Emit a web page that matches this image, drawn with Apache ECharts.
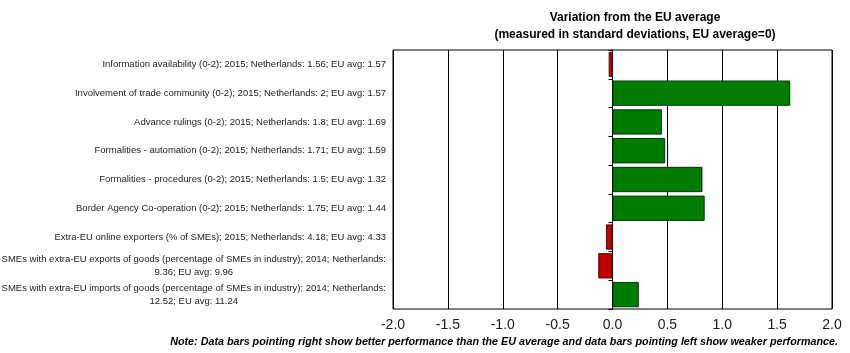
<!DOCTYPE html>
<html>
<head>
<meta charset="utf-8">
<script src="https://cdn.jsdelivr.net/npm/echarts@6/dist/echarts.min.js"></script>
<style>
  html, body { margin: 0; padding: 0; background: #fff; }
  #chart { width: 850px; height: 353px; }
</style>
</head>
<body>
<div id="chart"></div>
<script>
// indicators, top to bottom
var categories = [
  'Information availability (0-2); 2015; Netherlands: 1.56; EU avg: 1.57',
  'Involvement of trade community (0-2); 2015; Netherlands: 2; EU avg: 1.57',
  'Advance rulings (0-2); 2015; Netherlands: 1.8; EU avg: 1.69',
  'Formalities - automation (0-2); 2015; Netherlands: 1.71; EU avg: 1.59',
  'Formalities - procedures (0-2); 2015; Netherlands: 1.5; EU avg: 1.32',
  'Border Agency Co-operation (0-2); 2015; Netherlands: 1.75; EU avg: 1.44',
  'Extra-EU online exporters (% of SMEs); 2015; Netherlands: 4.18; EU avg: 4.33',
  'SMEs with extra-EU exports of goods (percentage of SMEs in industry); 2014; Netherlands:\n9.36; EU avg: 9.96',
  'SMEs with extra-EU imports of goods (percentage of SMEs in industry); 2014; Netherlands:\n12.52; EU avg: 11.24'
];
// variation from EU average, in standard deviations
var deviation = [-0.035, 1.62, 0.45, 0.48, 0.82, 0.84, -0.06, -0.13, 0.24];
var xTicks = [-2, -1.5, -1, -0.5, 0, 0.5, 1, 1.5, 2];

var myChart = echarts.init(document.getElementById('chart'));

var option = {
    backgroundColor: '#ffffff',
    animation: false,
    title: [{
        text: 'Variation from the EU average\n(measured in standard deviations, EU average=0)',
        left: 630,
        top: 4,
        textAlign: 'center',
        textStyle: {
            fontFamily: 'Liberation Sans',
            fontSize: 12,
            fontWeight: 'bold',
            color: '#000',
            lineHeight: 17
        }
    }, {
        text: 'Note: Data bars pointing right show better performance than the EU average and data bars pointing left show weaker performance.',
        right: 7,
        top: 332,
        textStyle: {
            fontFamily: 'Liberation Sans',
            fontSize: 10.75,
            fontWeight: 'bold',
            fontStyle: 'italic',
            color: '#000'
        }
    }],
    grid: {
        left: 393,
        right: 18,
        top: 50,
        bottom: 44,
        show: true,
        borderColor: '#000',
        borderWidth: 1,
        containLabel: false,
        outerBoundsMode: 'none'
    },
    xAxis: {
        type: 'value',
        min: xTicks[0],
        max: xTicks[xTicks.length - 1],
        interval: 0.5,
        axisLine: { show: false },
        axisTick: { show: false },
        splitLine: {
            show: true,
            lineStyle: { color: '#000', width: 1 }
        },
        axisLabel: {
            margin: 9,
            fontFamily: 'Liberation Sans',
            fontSize: 14,
            color: '#1a1a1a',
            formatter: function (v) { return v.toFixed(1); }
        }
    },
    yAxis: [{
        type: 'category',
        data: categories,
        inverse: true,
        axisLine: { show: false, onZero: false },
        axisTick: { show: false },
        axisLabel: {
            margin: 7,
            fontFamily: 'Liberation Sans',
            fontSize: 9.5,
            color: '#222',
            lineHeight: 13,
            formatter: function (v) {
                var parts = v.split('\n');
                if (parts.length === 1) return v;
                return parts.map(function (p) { return '{c|' + p + '}'; }).join('\n');
            },
            rich: {
                c: {
                    align: 'center',
                    fontFamily: 'Liberation Sans',
                    fontSize: 9.5,
                    color: '#222',
                    lineHeight: 13
                }
            }
        }
    }, {
        // small ticks on the zero line
        type: 'category',
        data: categories,
        inverse: true,
        position: 'left',
        axisLine: { show: true, onZero: true, lineStyle: { color: '#000' } },
        axisTick: { show: true, length: 4, lineStyle: { color: '#000' } },
        axisLabel: { show: false }
    }],
    series: [{
        type: 'bar',
        yAxisIndex: 0,
        data: deviation.map(function (v) {
            return {
                value: v,
                itemStyle: v >= 0
                    ? { color: '#007d00', borderColor: '#053805', borderWidth: 1 }
                    : { color: '#c00000', borderColor: '#5a0a0a', borderWidth: 1 }
            };
        }),
        barCategoryGap: '12%'
    }]
};

myChart.setOption(option);
</script>
</body>
</html>
